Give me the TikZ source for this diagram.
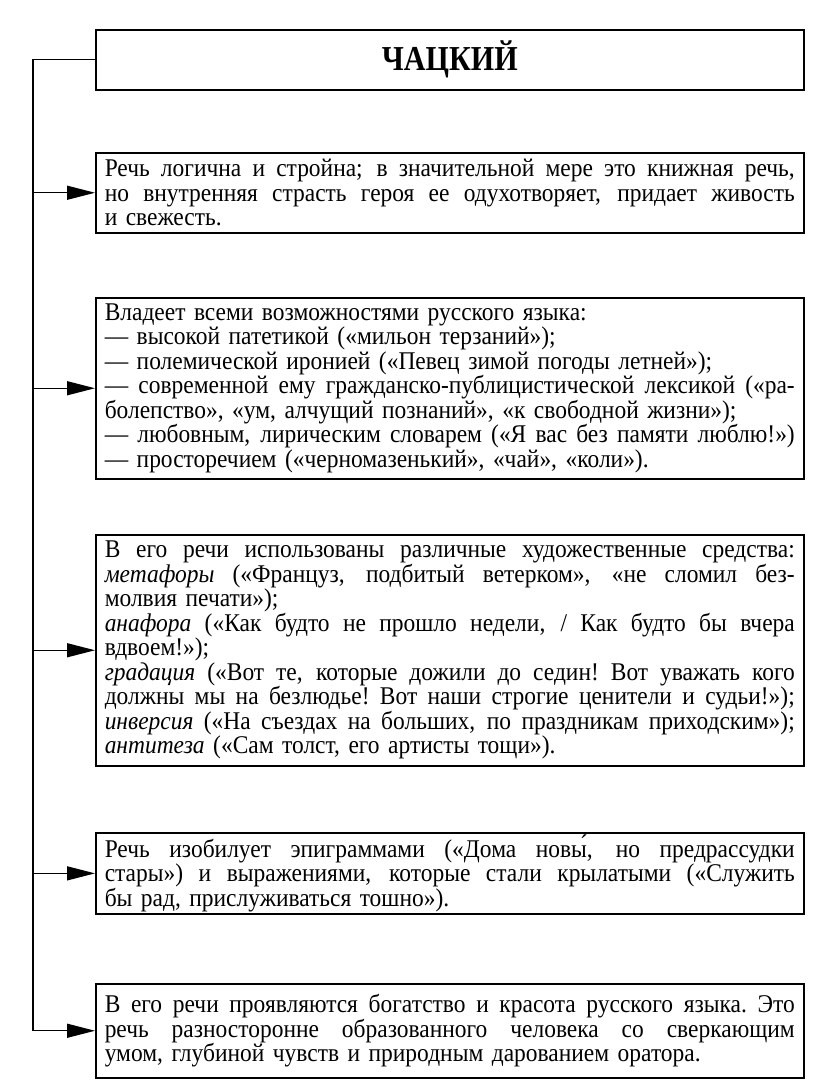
\documentclass[tikz,border=0pt]{standalone}
\usepackage{fontspec}
\setmainfont[FakeStretch=0.92]{Liberation Serif}
\newfontfamily\titlefont[FakeStretch=0.86]{Liberation Serif}
\usetikzlibrary{arrows.meta}
\newlength\tw
\setlength\tw{690pt}
\newcommand{\jl}[1]{\leavevmode\hbox to \tw{\spaceskip=\fontdimen2\font plus 1fil minus \fontdimen4\font
  \xspaceskip=\spaceskip #1}}
\begin{document}
\begin{tikzpicture}[x=1pt,y=1pt,
  box/.style={draw,line width=1.5pt,anchor=north west,inner xsep=8pt,inner ysep=2pt,
    text width=\tw,align=left,minimum width=708pt,
    font=\fontsize{25.5}{24.5}\selectfont},
  titlebox/.style={draw,line width=1.5pt,anchor=north west,minimum width=708pt,minimum height=60pt,
    font=\titlefont\fontsize{35}{36}\selectfont\bfseries},
  link/.style={line width=1.4pt},
  arr/.style={line width=1.4pt,-{Triangle[length=28pt,width=14pt]}}]
\useasboundingbox (0,0) rectangle (816,-1092);
\node[titlebox] (title) at (95,-29) {\raisebox{3pt}{ЧАЦКИЙ}};
\node[box,minimum height=80pt] (b1) at (95,-152) {%
\jl{Речь логична и стройна; в значительной мере это книжная речь,}\\
\jl{но внутренняя страсть героя ее одухотворяет, придает живость}\\
и свежесть.};
\node[box,minimum height=181pt] (b2) at (95,-297) {%
Владеет всеми возможностями русского языка:\\
— высокой патетикой («мильон терзаний»);\\
— полемической иронией («Певец зимой погоды летней»);\\
\jl{— современной ему гражданско-публицистической лексикой («ра-}\\
болепство», «ум, алчущий познаний», «к свободной жизни»);\\
\jl{— любовным, лирическим словарем («Я вас без памяти люблю!»)}\\
— просторечием («черномазенький», «чай», «коли»).};
\node[box,minimum height=231pt] (b3) at (95,-534) {%
\jl{В его речи использованы различные художественные средства:}\\
\jl{\textit{метафоры} («Француз, подбитый ветерком», «не сломил без-}\\
молвия печати»);\\
\jl{\textit{анафора} («Как будто не прошло недели, / Как будто бы вчера}\\
вдвоем!»);\\
\jl{\textit{градация} («Вот те, которые дожили до седин! Вот уважать кого}\\
\jl{должны мы на безлюдье! Вот наши строгие ценители и судьи!»);}\\
\jl{\textit{инверсия} («На съездах на больших, по праздникам приходским»);}\\
\textit{антитеза} («Сам толст, его артисты тощи»).};
\node[box,minimum height=80pt] (b4) at (95,-832) {%
\jl{Речь изобилует эпиграммами («Дома новы́, но предрассудки}\\
\jl{стары») и выражениями, которые стали крылатыми («Служить}\\
бы рад, прислуживаться тошно»).};
\node[box,minimum height=94pt] (b5) at (95,-983) {%
\jl{В его речи проявляются богатство и красота русского языка. Это}\\
\jl{речь разносторонне образованного человека со сверкающим}\\
умом, глубиной чувств и природным дарованием оратора.};
\coordinate (trunk) at (33,0);
\draw[link] (title.west) -- (title.west -| trunk) -- (b5.west -| trunk);
\foreach \b in {b1,b2,b3,b4,b5}
  \draw[arr] (\b.west -| trunk) -- (\b.west);
\end{tikzpicture}
\end{document}
